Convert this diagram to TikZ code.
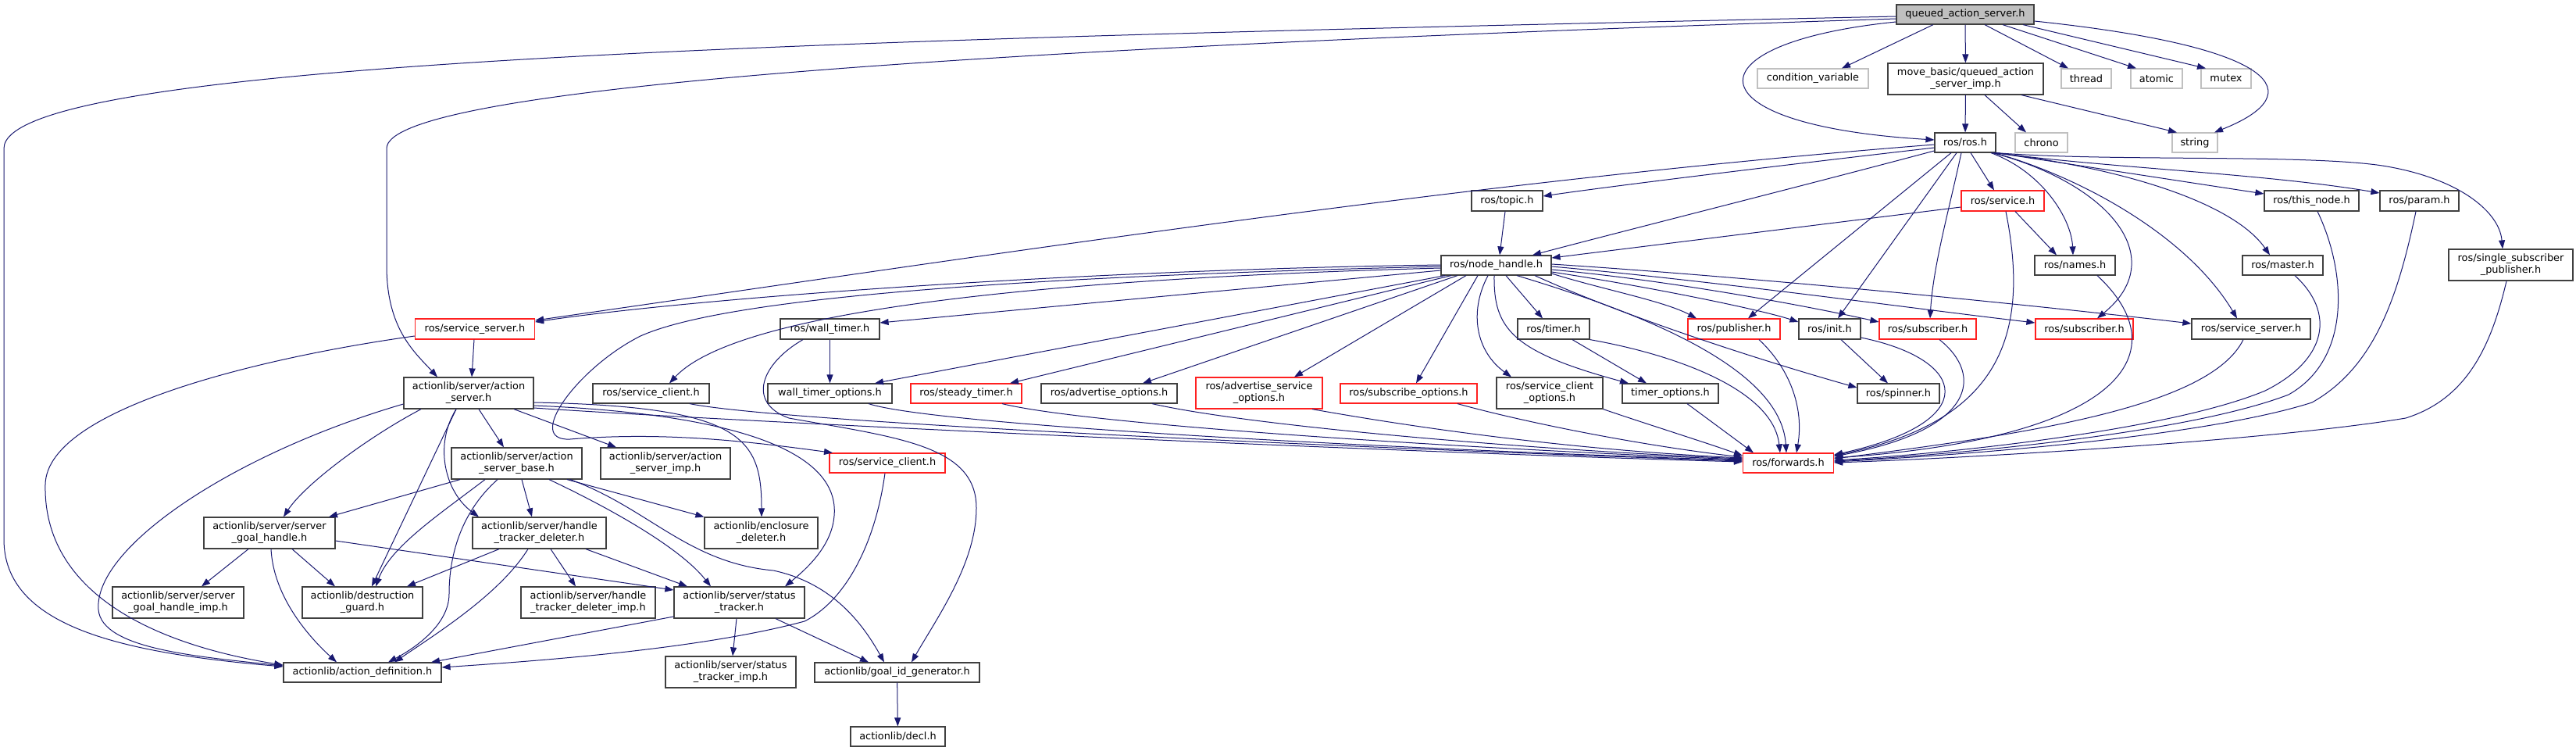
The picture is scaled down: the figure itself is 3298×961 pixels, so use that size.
\documentclass[tikz,border=0pt]{standalone}
\usepackage{fontspec}
\setmainfont{DejaVu Sans}
\usetikzlibrary{arrows.meta}
\definecolor{edgec}{HTML}{191970}
\definecolor{boxc}{HTML}{404040}
\definecolor{redc}{HTML}{FF2020}
\definecolor{greyc}{HTML}{C0C0C0}
\definecolor{rootfill}{HTML}{BFBFBF}
\begin{document}
\begin{tikzpicture}[x=1pt,y=-1pt,
 bx/.style={draw=boxc, line width=1.2pt, fill=white, inner sep=0pt, align=center, font=\fontsize{12.9}{15}\selectfont},
 rbx/.style={bx, draw=redc},
 gbx/.style={bx, draw=greyc},
 edg/.style={draw=edgec, line width=1pt, -{Triangle[length=11pt,width=8pt]}}]
\fill[white] (0,0) rectangle (3298,961);
\useasboundingbox (0,0) rectangle (3298,961);

% ---------- nodes ----------
\node[bx, fill=rootfill, minimum width=176pt, minimum height=25pt] (Q) at (2516,18.5) {queued\_action\_server.h};
\node[gbx, minimum width=142pt, minimum height=25pt] (cv) at (2321,100.5) {condition\_variable};
\node[bx, minimum width=199pt, minimum height=40pt] (M) at (2516.5,101) {move\_basic/queued\_action\\\_server\_imp.h};
\node[gbx, minimum width=64pt, minimum height=25pt] (thread) at (2671,100.5) {thread};
\node[gbx, minimum width=66pt, minimum height=25pt] (atomic) at (2761,100.5) {atomic};
\node[gbx, minimum width=64pt, minimum height=25pt] (mutex) at (2850,100.5) {mutex};
\node[bx, minimum width=78pt, minimum height=25pt] (R) at (2516,182.5) {ros/ros.h};
\node[gbx, minimum width=67pt, minimum height=25pt] (chrono) at (2613.5,182.5) {chrono};
\node[gbx, minimum width=58pt, minimum height=25pt] (string) at (2810,182.5) {string};
\node[bx, minimum width=91pt, minimum height=26pt] (topic) at (1929.5,257) {ros/topic.h};
\node[rbx, minimum width=106pt, minimum height=26pt] (service) at (2564,257) {ros/service.h};
\node[bx, minimum width=121pt, minimum height=26pt] (thisnode) at (2959.5,257) {ros/this\_node.h};
\node[bx, minimum width=101pt, minimum height=26pt] (param) at (3097.5,257) {ros/param.h};
\node[bx, minimum width=141pt, minimum height=25pt] (NH) at (1915.5,339.5) {ros/node\_handle.h};
\node[bx, minimum width=103pt, minimum height=25pt] (names) at (2656.5,339.5) {ros/names.h};
\node[bx, minimum width=103pt, minimum height=25pt] (master) at (2922.5,339.5) {ros/master.h};
\node[bx, minimum width=159pt, minimum height=40pt] (ssp) at (3214.5,339) {ros/single\_subscriber\\\_publisher.h};
\node[rbx, minimum width=153pt, minimum height=26pt] (ssL) at (608,421) {ros/service\_server.h};
\node[bx, minimum width=127pt, minimum height=26pt] (wt) at (1062.5,421) {ros/wall\_timer.h};
\node[bx, minimum width=92pt, minimum height=26pt] (timer) at (1989,421) {ros/timer.h};
\node[rbx, minimum width=118pt, minimum height=26pt] (pub) at (2220,421) {ros/publisher.h};
\node[bx, minimum width=79pt, minimum height=26pt] (init) at (2342.5,421) {ros/init.h};
\node[rbx, minimum width=124pt, minimum height=26pt] (sub1) at (2468,421) {ros/subscriber.h};
\node[rbx, minimum width=125pt, minimum height=26pt] (sub2) at (2668.5,421) {ros/subscriber.h};
\node[bx, minimum width=152pt, minimum height=26pt] (ssR) at (2882,421) {ros/service\_server.h};
\node[bx, minimum width=166pt, minimum height=40pt] (AS) at (600,503) {actionlib/server/action\\\_server.h};
\node[bx, minimum width=149pt, minimum height=25pt] (scB) at (833.5,503.5) {ros/service\_client.h};
\node[bx, minimum width=159pt, minimum height=25pt] (wto) at (1062.5,503.5) {wall\_timer\_options.h};
\node[rbx, minimum width=142pt, minimum height=25pt] (steady) at (1237,503.5) {ros/steady\_timer.h};
\node[bx, minimum width=174pt, minimum height=25pt] (advopt) at (1420,503.5) {ros/advertise\_options.h};
\node[rbx, minimum width=162pt, minimum height=40pt] (advsrv) at (1612,503) {ros/advertise\_service\\\_options.h};
\node[rbx, minimum width=175pt, minimum height=25pt] (subopt) at (1803.5,503.5) {ros/subscribe\_options.h};
\node[bx, minimum width=136pt, minimum height=40pt] (scopt) at (1984,503) {ros/service\_client\\\_options.h};
\node[bx, minimum width=123pt, minimum height=25pt] (topt) at (2138.5,503.5) {timer\_options.h};
\node[bx, minimum width=105pt, minimum height=25pt] (spinner) at (2430.5,503.5) {ros/spinner.h};
\node[bx, minimum width=167pt, minimum height=40pt] (ASB) at (661.5,593) {actionlib/server/action\\\_server\_base.h};
\node[bx, minimum width=166pt, minimum height=40pt] (ASI) at (852,593) {actionlib/server/action\\\_server\_imp.h};
\node[rbx, minimum width=148pt, minimum height=25pt] (scR) at (1136,592.5) {ros/service\_client.h};
\node[rbx, minimum width=116pt, minimum height=25pt] (fwd) at (2289.5,592.5) {ros/forwards.h};
\node[bx, minimum width=168pt, minimum height=40pt] (SGH) at (345,682) {actionlib/server/server\\\_goal\_handle.h};
\node[bx, minimum width=171pt, minimum height=40pt] (HTD) at (690.5,682) {actionlib/server/handle\\\_tracker\_deleter.h};
\node[bx, minimum width=145pt, minimum height=40pt] (ED) at (974.5,682) {actionlib/enclosure\\\_deleter.h};
\node[bx, minimum width=168pt, minimum height=40pt] (SGHI) at (228,771) {actionlib/server/server\\\_goal\_handle\_imp.h};
\node[bx, minimum width=154pt, minimum height=40pt] (DG) at (464,771) {actionlib/destruction\\\_guard.h};
\node[bx, minimum width=172pt, minimum height=40pt] (HTDI) at (753,771) {actionlib/server/handle\\\_tracker\_deleter\_imp.h};
\node[bx, minimum width=167pt, minimum height=40pt] (ST) at (946.5,771) {actionlib/server/status\\\_tracker.h};
\node[bx, minimum width=202pt, minimum height=25pt] (AD) at (464,860.5) {actionlib/action\_definition.h};
\node[bx, minimum width=167pt, minimum height=40pt] (STI) at (935.5,860) {actionlib/server/status\\\_tracker\_imp.h};
\node[bx, minimum width=211pt, minimum height=25pt] (GID) at (1148.5,860.5) {actionlib/goal\_id\_generator.h};
\node[bx, minimum width=121pt, minimum height=25pt] (decl) at (1149.5,942.5) {actionlib/decl.h};

% ---------- edges ----------
% queued_action_server.h
\draw[edg] (Q.west |- 0,21) .. controls (1100,50) and (5,75) .. (5,190) -- (5,690) .. controls (5,800) and (150,835) .. (AD.west |- 0,853);
\draw[edg] (Q.west |- 0,24) .. controls (1300,60) and (495,110) .. (495,190) -- (495,340) .. controls (495,420) and (530,450) .. (AS.north -| 560,0);
\draw[edg] (Q.south -| 2475,0) -- (cv.north -| 2358,0);
\draw[edg] (Q.west |- 0,28) .. controls (2160,55) and (2160,160) .. (R.west |- 0,179);
\draw[edg] (Q) -- (M);
\draw[edg] (Q.south -| 2541,0) -- (thread.north -| 2648,0);
\draw[edg] (Q.south -| 2564,0) -- (atomic.north -| 2735,0);
\draw[edg] (Q.south -| 2590,0) -- (mutex.north -| 2824,0);
\draw[edg] (Q.east |- 0,27) .. controls (2920,60) and (2960,120) .. (string.north -| 2835,0);
% move_basic
\draw[edg] (M) -- (R);
\draw[edg] (M.south -| 2541,0) -- (chrono.north -| 2594,0);
\draw[edg] (M.south -| 2588,0) -- (string.north -| 2787,0);
% ros/ros.h
\draw[edg] (R.west |- 0,185) .. controls (1877,232) and (1284,324) .. (ssL.east |- 0,410);
\draw[edg] (R.west |- 0,189) .. controls (2250,215) and (2050,240) .. (topic.east |- 0,251);
\draw[edg] (R.west |- 0,193) .. controls (2300,240) and (2100,290) .. (NH.north -| 1962,0);
\draw[edg] (R.south -| 2523,0) -- (service.north -| 2553,0);
\draw[edg] (R.south -| 2498,0) -- (pub.north -| 2238,0);
\draw[edg] (R.south -| 2505,0) -- (init.north -| 2353,0);
\draw[edg] (R.south -| 2511,0) .. controls (2495,270) and (2475,340) .. (sub1.north -| 2471,0);
\draw[edg] (R.south -| 2549,0) .. controls (2615,220) and (2652,280) .. (names.north -| 2654,0);
\draw[edg] (R.south -| 2551,0) .. controls (2700,235) and (2780,330) .. (sub2.north -| 2685,0);
\draw[edg] (R.south -| 2553,0) .. controls (2660,225) and (2800,300) .. (ssR.north -| 2864,0);
\draw[edg] (R.south -| 2554,0) .. controls (2720,215) and (2860,260) .. (master.north -| 2906,0);
\draw[edg] (R.south east) -- (thisnode.west |- 0,248);
\draw[edg] (R.south east) .. controls (2700,215) and (2900,222) .. (param.west |- 0,247);
\draw[edg] (R.south east) .. controls (2700,207) and (2950,197) .. (3050,212) .. controls (3150,228) and (3200,272) .. (ssp.north -| 3204,0);
% ros/service.h
\draw[edg] (service.west |- 0,265) -- (NH.east |- 0,330);
\draw[edg] (service.south -| 2580,0) -- (names.north -| 2633,0);
\draw[edg] (service.south -| 2568,0) .. controls (2600,430) and (2560,540) .. (fwd.east |- 0,583);
% ros/topic.h
\draw[edg] (topic.south -| 1927,0) -- (NH.north -| 1920,0);
% ros/node_handle.h
\draw[edg] (NH.west |- 0,339) .. controls (1400,345) and (900,380) .. (ssL.east |- 0,412);
\draw[edg] (NH.west |- 0,341) .. controls (1250,355) and (920,385) .. (820,430) .. controls (740,470) and (670,565) .. (730,562) .. controls (850,552) and (960,565) .. (scR.north -| 1066,0);
\draw[edg] (NH.west |- 0,343) .. controls (1400,355) and (950,390) .. (scB.north -| 857,0);
\draw[edg] (NH.west |- 0,346) -- (wt.east |- 0,413);
\draw[edg] (NH.south -| 1850,0) -- (wto.north -| 1120,0);
\draw[edg] (NH.south -| 1858,0) -- (steady.north -| 1293,0);
\draw[edg] (NH.south -| 1866,0) -- (advopt.north -| 1463,0);
\draw[edg] (NH.south -| 1877,0) -- (advsrv.north -| 1657,0);
\draw[edg] (NH.south -| 1892,0) -- (subopt.north -| 1813,0);
\draw[edg] (NH.south -| 1905,0) .. controls (1880,400) and (1890,450) .. (scopt.north -| 1935,0);
\draw[edg] (NH.south -| 1928,0) -- (timer.north -| 1975,0);
\draw[edg] (NH.south -| 1913,0) .. controls (1912,420) and (1935,450) .. (topt.north -| 2085,0);
\draw[edg] (NH.east |- 0,350) .. controls (2050,370) and (2130,385) .. (pub.north -| 2172,0);
\draw[edg] (NH.east |- 0,348) .. controls (2100,365) and (2250,395) .. (init.west |- 0,412);
\draw[edg] (NH.east |- 0,345) .. controls (2150,360) and (2330,395) .. (sub1.west |- 0,412);
\draw[edg] (NH.east |- 0,341) .. controls (2200,360) and (2450,395) .. (sub2.west |- 0,413);
\draw[edg] (NH.east |- 0,338) .. controls (2250,355) and (2600,390) .. (ssR.west |- 0,414);
\draw[edg] (NH.south -| 1965,0) .. controls (2080,405) and (2250,460) .. (spinner.west |- 0,496);
\draw[edg] (NH.south -| 1942,0) .. controls (2100,400) and (2280,470) .. (fwd.north -| 2287,0);
% ros/wall_timer.h
\draw[edg] (wt) -- (wto);
\draw[edg] (wt.south -| 1028,0) .. controls (975,465) and (955,515) .. (1010,535) .. controls (1150,560) and (1250,570) .. (1250,650) .. controls (1250,720) and (1200,790) .. (GID.north -| 1167,0);
% ros/service_server.h (left)
\draw[edg] (ssL.south -| 607,0) -- (AS.north -| 604,0);
\draw[edg] (ssL.west |- 0,430) .. controls (350,455) and (60,520) .. (58,620) .. controls (55,760) and (200,825) .. (AD.west |- 0,851);
% ros/timer.h
\draw[edg] (timer.south -| 2013,0) -- (topt.north -| 2108,0);
\draw[edg] (timer.south east) .. controls (2150,455) and (2270,500) .. (fwd.north -| 2279,0);
% ros/init.h
\draw[edg] (init.south -| 2357,0) -- (spinner.north -| 2417,0);
\draw[edg] (init.east |- 0,432) .. controls (2520,460) and (2540,540) .. (fwd.east |- 0,582);
% ros/publisher.h, ros/subscriber.h
\draw[edg] (pub.south -| 2252,0) .. controls (2290,470) and (2310,520) .. (fwd.north -| 2300,0);
\draw[edg] (sub1.south -| 2483,0) .. controls (2540,480) and (2530,550) .. (fwd.east |- 0,584);
% right hand headers into forwards
\draw[edg] (names.south -| 2685,0) .. controls (2790,450) and (2720,560) .. (fwd.east |- 0,586);
\draw[edg] (ssR.south -| 2872,0) .. controls (2830,520) and (2600,555) .. (fwd.east |- 0,587);
\draw[edg] (master.south -| 2938,0) .. controls (2990,400) and (2980,460) .. (2900,500) .. controls (2780,550) and (2500,580) .. (fwd.east |- 0,589);
\draw[edg] (thisnode.south -| 2967,0) .. controls (3005,350) and (3010,460) .. (2930,505) .. controls (2800,555) and (2500,582) .. (fwd.east |- 0,590);
\draw[edg] (param.south -| 3093,0) .. controls (3070,380) and (3040,470) .. (2960,515) .. controls (2820,560) and (2500,583) .. (fwd.east |- 0,591);
\draw[edg] (ssp.south -| 3209,0) .. controls (3190,440) and (3160,510) .. (3080,535) .. controls (2900,565) and (2500,587) .. (fwd.east |- 0,592);
% left hand headers into forwards
\draw[edg] (AS.east |- 0,522) .. controls (900,537) and (1700,576) .. (fwd.west |- 0,591);
\draw[edg] (scB.south -| 883,0) .. controls (1000,540) and (1700,572) .. (fwd.west |- 0,590);
\draw[edg] (wto.south -| 1112,0) .. controls (1200,545) and (1800,575) .. (fwd.west |- 0,589);
\draw[edg] (steady.south -| 1283,0) .. controls (1400,545) and (1900,575) .. (fwd.west |- 0,588);
\draw[edg] (advopt.south -| 1475,0) .. controls (1600,545) and (1950,575) .. (fwd.west |- 0,587);
\draw[edg] (advsrv.south -| 1680,0) .. controls (1800,545) and (2000,575) .. (fwd.west |- 0,586);
\draw[edg] (subopt.south -| 1866,0) .. controls (1950,540) and (2100,570) .. (fwd.west |- 0,585);
\draw[edg] (scopt.south east) .. controls (2100,540) and (2180,565) .. (fwd.west |- 0,583);
\draw[edg] (topt.south -| 2160,0) -- (fwd.north -| 2245,0);
% actionlib/server/action_server.h
\draw[edg] (AS.south -| 613,0) -- (ASB.north -| 645,0);
\draw[edg] (AS.south -| 658,0) -- (ASI.north -| 789,0);
\draw[edg] (AS.south -| 539,0) .. controls (470,560) and (390,620) .. (SGH.north -| 363,0);
\draw[edg] (AS.south -| 584,0) -- (DG.north -| 476,0);
\draw[edg] (AS.south -| 584,0) .. controls (555,570) and (570,630) .. (HTD.north -| 613,0);
\draw[edg] (AS.west |- 0,517) .. controls (300,580) and (120,700) .. (126,780) .. controls (130,830) and (250,840) .. (AD.west |- 0,852);
\draw[edg] (AS.east |- 0,515) .. controls (950,520) and (975,560) .. (ED.north -| 975,0);
\draw[edg] (AS.east |- 0,519) .. controls (950,530) and (1075,580) .. (1068,660) .. controls (1065,700) and (1030,730) .. (ST.north -| 1005,0);
% actionlib/server/action_server_base.h
\draw[edg] (ASB.south -| 589,0) -- (SGH.north -| 421,0);
\draw[edg] (ASB.south -| 621,0) .. controls (560,660) and (500,700) .. (DG.north -| 481,0);
\draw[edg] (ASB.south -| 637,0) .. controls (585,660) and (575,720) .. (575,760) .. controls (575,800) and (530,830) .. (AD.north -| 497,0);
\draw[edg] (ASB.south -| 668,0) -- (HTD.north -| 681,0);
\draw[edg] (ASB.south -| 726,0) -- (ED.north west);
\draw[edg] (ASB.south -| 703,0) .. controls (780,650) and (870,700) .. (ST.north -| 910,0);
\draw[edg] (ASB.south -| 730,0) .. controls (830,650) and (880,720) .. (990,730) .. controls (1060,745) and (1100,790) .. (GID.north -| 1132,0);
% actionlib/server/server_goal_handle.h
\draw[edg] (SGH.south -| 318,0) -- (SGHI.north -| 258,0);
\draw[edg] (SGH.south -| 374,0) -- (DG.north -| 429,0);
\draw[edg] (SGH.south -| 347,0) .. controls (350,760) and (390,810) .. (AD.north -| 431,0);
\draw[edg] (SGH.east |- 0,692) -- (ST.west |- 0,755);
% actionlib/server/handle_tracker_deleter.h
\draw[edg] (HTD.south -| 639,0) -- (DG.north -| 521,0);
\draw[edg] (HTD.south -| 676,0) .. controls (640,760) and (560,810) .. (AD.north -| 505,0);
\draw[edg] (HTD.south -| 705,0) -- (HTDI.north -| 737,0);
\draw[edg] (HTD.south -| 750,0) -- (ST.north -| 880,0);
% actionlib/server/status_tracker.h
\draw[edg] (ST.west |- 0,789) -- (AD.north -| 552,0);
\draw[edg] (ST.south -| 943,0) -- (STI.north -| 938,0);
\draw[edg] (ST.south -| 993,0) -- (GID.north -| 1112,0);
% ros/service_client.h (red)
\draw[edg] (scR.south -| 1133,0) .. controls (1120,700) and (1080,770) .. (1030,795) .. controls (900,830) and (700,845) .. (AD.east |- 0,854);
% goal_id_generator
\draw[edg] (GID) -- (decl);
\end{tikzpicture}
\end{document}
